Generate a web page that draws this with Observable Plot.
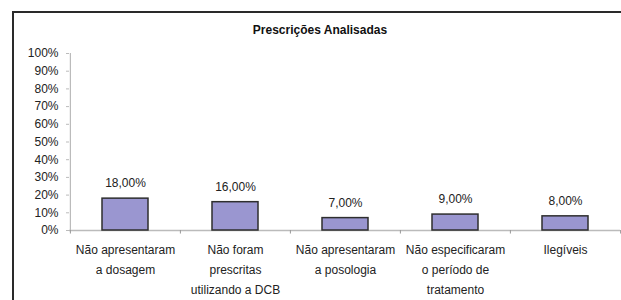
<!DOCTYPE html>
<html>
<head>
<meta charset="utf-8">
<script src="https://cdn.jsdelivr.net/npm/d3@7"></script>
<script src="https://cdn.jsdelivr.net/npm/@observablehq/plot@0.6"></script>
<style>
  html, body { margin: 0; padding: 0; background: #fff; overflow: hidden; width: 621px; height: 300px; }
  #wrap { position: relative; width: 621px; height: 300px; }
  #frame { position: absolute; left: 12px; top: 11px; width: 700px; height: 400px; border-left: 2px solid #2a2a2a; border-top: 2px solid #2a2a2a; }
  #title { position: absolute; left: 0; top: 23px; width: 640px; text-align: center; font: bold 12px "Liberation Sans", Arial, sans-serif; color: #111; }
  #chart { position: absolute; left: 0; top: 0; }
</style>
</head>
<body>
<div id="wrap">
  <div id="frame"></div>
  <div id="chart"></div>
  <div id="title">Prescrições Analisadas</div>
</div>
<script>
const title = "Prescrições Analisadas";
const categories = [
  "Não apresentaram\na dosagem",
  "Não foram\nprescritas\nutilizando a DCB",
  "Não apresentaram\na posologia",
  "Não especificaram\no período de\ntratamento",
  "Ilegíveis"
];
const values = [18, 16, 7, 9, 8];
const yTicks = [0, 10, 20, 30, 40, 50, 60, 70, 80, 90, 100];

const data = categories.map((c, i) => ({category: c, value: values[i]}));

const W = 621, H = 300, mL = 69, mR = 1, mT = 53, mB = 70;
const step = (W - mL - mR) / categories.length;
const font = '"Liberation Sans", Arial, sans-serif';

const chart = Plot.plot({
  width: W,
  height: H,
  marginLeft: mL,
  marginRight: mR,
  marginTop: mT,
  marginBottom: mB,
  style: {fontFamily: font, fontSize: "12px", color: "#222", background: "transparent"},
  x: {domain: categories, padding: 0, axis: null, label: null},
  y: {domain: [0, 100], axis: null, label: null},
  marks: [
    Plot.axisY({ticks: yTicks, tickFormat: d => d + "%", tickSize: 3, tickPadding: 8, stroke: "#bbb", fill: "#222", fontSize: 12, label: null}),
    Plot.axisX({tickSize: 0, tickPadding: 9, lineHeight: 1.67, fill: "#222", fontSize: 12, label: null}),
    Plot.ruleX([categories[0]], {x: d => d, dx: -step / 2, y1: 0, y2: 100, stroke: "#bbb", strokeWidth: 1.2}),
    Plot.ruleY([0], {stroke: "#bbb", strokeWidth: 1.5}),
    Plot.ruleX(categories, {x: d => d, dx: -step / 2, y1: 0, y2: -2, stroke: "#999"}),
    Plot.ruleX([categories[categories.length - 1]], {x: d => d, dx: step / 2, y1: 0, y2: -2, stroke: "#999"}),
    Plot.barY(data, {x: "category", y: "value", fill: "#9A96D0", stroke: "#2e2e2e", strokeWidth: 1.5, insetLeft: 32, insetRight: 32}),
    Plot.text(data, {x: "category", y: "value", text: d => d.value.toFixed(2).replace(".", ",") + "%", dy: -15, fill: "#222", fontSize: 12})
  ]
});
document.getElementById("chart").appendChild(chart);
</script>
</body>
</html>
